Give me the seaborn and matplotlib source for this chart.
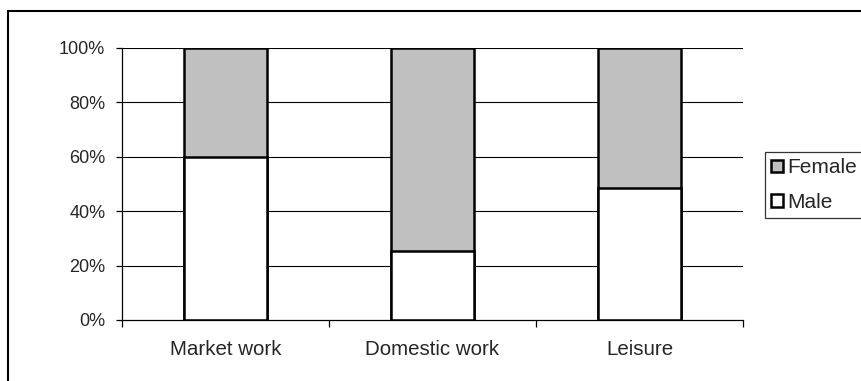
import matplotlib
matplotlib.use("Agg")
import matplotlib.pyplot as plt
from matplotlib.patches import Patch
from matplotlib.lines import Line2D
from matplotlib.ticker import FixedLocator, PercentFormatter
import seaborn as sns
import pandas as pd

# Share of time by activity (percent)
categories = ["Market work", "Domestic work", "Leisure"]
male_share = [60.0, 25.5, 48.5]
female_share = [40.0, 74.5, 51.5]
y_ticks = [0, 20, 40, 60, 80, 100]

sns.set_theme(style="white")
plt.rcParams["font.family"] = ["Liberation Sans", "DejaVu Sans"]
plt.rcParams["font.size"] = 12.5

df = pd.DataFrame({
    "activity": categories,
    "male": male_share,
    "female": female_share,
})
df["total"] = df["male"] + df["female"]

fig = plt.figure(figsize=(8.62, 3.81), dpi=100)
ax = fig.add_axes([122 / 862, 1 - 320 / 381, (743 - 122) / 862, (320 - 48) / 381])

# horizontal gridlines behind bars
for t in y_ticks[1:]:
    ax.axhline(t, color="black", lw=0.8, zorder=0)

female_color = "#C0C0C0"
bar_kw = dict(width=0.4, edgecolor="black", linewidth=1.8, errorbar=None, zorder=2)
sns.barplot(data=df, x="activity", y="total", color=female_color, saturation=1, ax=ax, **bar_kw)
sns.barplot(data=df, x="activity", y="male", color="white", saturation=1, ax=ax, **bar_kw)

ax.set_xlim(-0.5, len(categories) - 0.5)
ax.set_ylim(0, 100)
ax.set_xlabel("")
ax.set_ylabel("")
ax.yaxis.set_major_locator(FixedLocator(y_ticks))
ax.yaxis.set_major_formatter(PercentFormatter(decimals=0))

for side in ["top", "right"]:
    ax.spines[side].set_visible(False)
for side in ["left", "bottom"]:
    ax.spines[side].set_color("black")
    ax.spines[side].set_linewidth(0.9)

ax.tick_params(axis="y", which="major", direction="out", length=4, width=0.9,
               color="black", pad=8, labelsize=13, left=True)
ax.xaxis.set_minor_locator(FixedLocator([i - 0.5 for i in range(len(categories) + 1)]))
ax.tick_params(axis="x", which="major", length=0, pad=14.5, labelsize=14.8)
ax.tick_params(axis="x", which="minor", direction="out", length=5, width=0.9,
               color="black", bottom=True)

handles = [
    Patch(facecolor=female_color, edgecolor="black", linewidth=1.8, label="Female"),
    Patch(facecolor="white", edgecolor="black", linewidth=1.8, label="Male"),
]
leg = fig.legend(handles=handles, loc="upper left", bbox_to_anchor=(765 / 862, 1 - 152 / 381),
                 frameon=True, fancybox=False, shadow=False, fontsize=15,
                 handlelength=0.55, handleheight=0.55, handletextpad=0.2,
                 borderpad=0.3, labelspacing=0.75, borderaxespad=0)
leg.get_frame().set_edgecolor("black")
leg.get_frame().set_linewidth(0.9)

# chart area border (top and left edges)
fig.add_artist(Line2D([8 / 862, 1.0], [1 - 11 / 381, 1 - 11 / 381], color="black", lw=1.5,
                      transform=fig.transFigure))
fig.add_artist(Line2D([8 / 862, 8 / 862], [0.0, 1 - 11 / 381], color="black", lw=1.5,
                      transform=fig.transFigure))

fig.savefig("out.png", dpi=100)
